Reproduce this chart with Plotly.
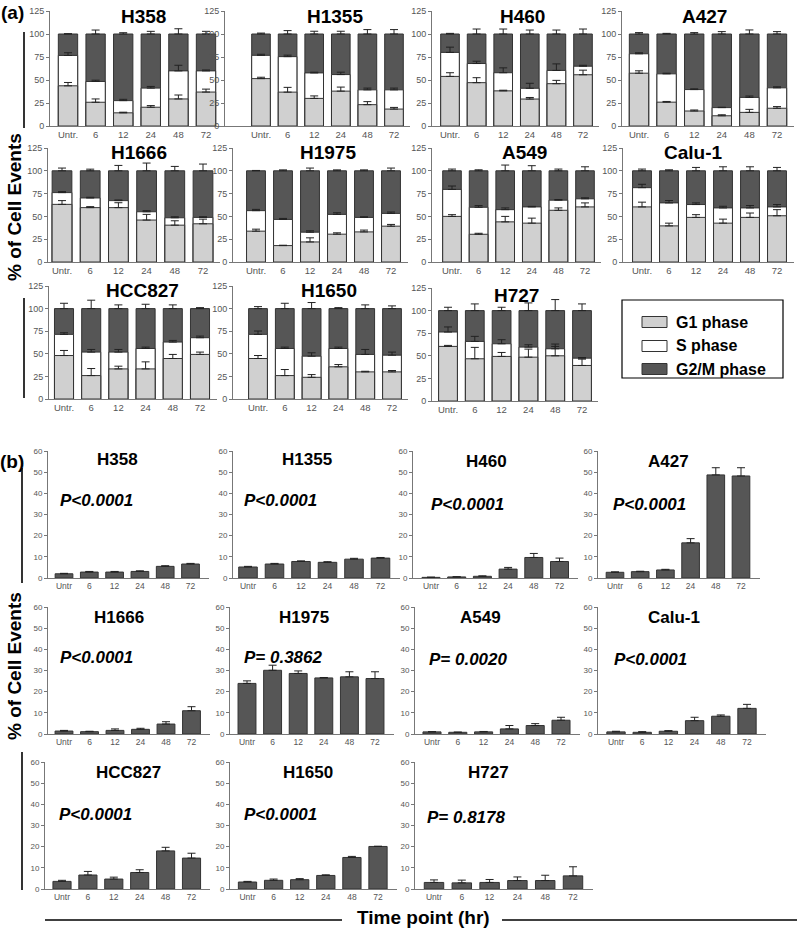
import numpy as np
import plotly.graph_objects as go

# ---------------- data ----------------
TIMEPOINTS_A = ["Untr.", "6", "12", "24", "48", "72"]
TIMEPOINTS_B = ["Untr", "6", "12", "24", "48", "72"]
CELL_LINES = ["H358", "H1355", "H460", "A427", "H1666", "H1975",
              "A549", "Calu-1", "HCC827", "H1650", "H727"]

# (a) cell-cycle distribution, % of cell events
G1_PHASE = {
    "H358":   [43.7, 25.8, 14.3, 20.4, 29.4, 36.9],
    "H1355":  [51.5, 36.8, 30.0, 37.9, 23.2, 18.4],
    "H460":   [53.9, 47.1, 38.2, 29.3, 46.0, 55.7],
    "A427":   [57.4, 25.9, 16.3, 11.1, 14.8, 19.3],
    "H1666":  [63.2, 59.6, 59.6, 46.0, 40.4, 41.9],
    "H1975":  [33.8, 18.0, 22.0, 30.5, 33.0, 39.3],
    "A549":   [50.0, 30.4, 44.0, 42.6, 56.7, 60.4],
    "Calu-1": [60.4, 39.6, 48.9, 42.6, 48.9, 50.7],
    "HCC827": [48.1, 25.9, 33.3, 33.3, 44.8, 49.3],
    "H1650":  [44.8, 25.9, 24.0, 35.6, 30.0, 30.0],
    "H727":   [60.4, 46.7, 49.3, 48.5, 50.0, 39.3],
}
S_PHASE = {
    "H358":   [33.0, 22.6, 13.3, 20.8, 30.5, 23.0],
    "H1355":  [25.3, 38.6, 27.7, 18.0, 16.1, 20.9],
    "H460":   [26.1, 20.8, 19.7, 11.7, 14.4, 9.3],
    "A427":   [21.1, 30.8, 23.3, 8.9, 16.3, 22.2],
    "H1666":  [12.9, 10.6, 7.7, 9.1, 8.1, 7.0],
    "H1975":  [22.5, 28.7, 10.7, 21.7, 15.9, 14.0],
    "A549":   [29.6, 29.6, 13.4, 17.8, 11.1, 8.9],
    "Calu-1": [21.1, 25.2, 14.1, 16.7, 10.4, 9.7],
    "HCC827": [23.4, 26.0, 18.6, 22.6, 18.2, 18.5],
    "H1650":  [26.7, 30.0, 23.4, 20.3, 19.3, 18.5],
    "H727":   [15.9, 19.2, 14.0, 11.1, 7.8, 8.1],
}
G2M_PHASE = {
    "H358":   [23.3, 51.6, 72.4, 58.8, 40.1, 40.1],
    "H1355":  [23.2, 24.6, 42.3, 44.1, 60.7, 60.7],
    "H460":   [20.0, 32.1, 42.1, 59.0, 39.6, 35.0],
    "A427":   [21.5, 43.3, 60.4, 80.0, 68.9, 58.5],
    "H1666":  [23.9, 29.8, 32.7, 44.9, 51.5, 51.1],
    "H1975":  [43.7, 53.3, 67.3, 47.8, 51.1, 46.7],
    "A549":   [20.4, 40.0, 42.6, 39.6, 32.2, 30.7],
    "Calu-1": [18.5, 35.2, 37.0, 40.7, 40.7, 39.6],
    "HCC827": [28.5, 48.1, 48.1, 44.1, 37.0, 32.2],
    "H1650":  [28.5, 44.1, 52.6, 44.1, 50.7, 51.5],
    "H727":   [23.7, 34.1, 36.7, 40.4, 42.2, 52.6],
}
G1_ERR = {
    "H358":   [3.6, 3.6, 0.7, 1.8, 4.3, 3.2],
    "H1355":  [1.5, 5.2, 2.7, 4.4, 3.3, 1.8],
    "H460":   [4.0, 5.4, 0.7, 1.7, 3.6, 5.0],
    "A427":   [2.6, 0.8, 1.1, 1.1, 3.3, 1.8],
    "H1666":  [4.1, 1.1, 5.4, 6.2, 4.8, 5.1],
    "H1975":  [2.2, 0.4, 4.5, 1.5, 2.0, 1.9],
    "A549":   [1.9, 1.1, 6.0, 5.5, 2.6, 4.4],
    "Calu-1": [5.2, 3.0, 3.0, 4.4, 4.8, 6.7],
    "HCC827": [5.6, 7.8, 3.0, 7.8, 4.5, 2.6],
    "H1650":  [3.3, 6.7, 3.0, 2.5, 0.7, 1.5],
    "H727":   [1.1, 12.6, 4.4, 8.9, 10.4, 7.0],
}
S_ERR = {
    "H358":   [2.9, 1.4, 1.4, 1.8, 6.1, 1.0],
    "H1355":  [1.2, 1.6, 0.8, 2.6, 1.9, 1.9],
    "H460":   [5.7, 2.5, 5.3, 5.4, 7.1, 1.0],
    "A427":   [1.1, 0.7, 0.8, 0.4, 1.5, 1.1],
    "H1666":  [1.1, 0.8, 0.7, 1.2, 1.1, 0.7],
    "H1975":  [1.4, 1.1, 1.5, 1.8, 0.7, 1.5],
    "A549":   [3.7, 1.9, 1.9, 0.6, 0.7, 1.1],
    "Calu-1": [3.7, 2.6, 1.8, 1.8, 2.6, 2.6],
    "HCC827": [1.8, 2.9, 2.9, 1.5, 1.8, 1.8],
    "H1650":  [3.7, 1.5, 3.7, 1.5, 5.5, 3.4],
    "H727":   [5.6, 5.6, 4.5, 2.6, 5.2, 0.7],
}
G2M_ERR = {
    "H358":   [0.3, 4.3, 1.4, 2.9, 5.7, 2.9],
    "H1355":  [1.0, 3.7, 3.0, 3.0, 4.8, 4.8],
    "H460":   [0.7, 5.4, 5.4, 4.3, 4.3, 5.4],
    "A427":   [1.5, 0.7, 1.5, 2.6, 4.4, 2.6],
    "H1666":  [3.0, 1.8, 5.9, 8.5, 4.8, 7.4],
    "H1975":  [0.4, 1.0, 3.0, 1.0, 1.0, 3.0],
    "A549":   [1.9, 1.1, 6.3, 5.6, 1.9, 4.4],
    "Calu-1": [1.9, 1.1, 3.7, 4.4, 4.4, 3.7],
    "HCC827": [5.9, 9.3, 4.1, 4.8, 4.1, 1.1],
    "H1650":  [2.2, 5.9, 6.7, 1.1, 4.1, 3.0],
    "H727":   [3.7, 7.4, 3.7, 8.5, 12.2, 7.4],
}

# (b) % of cell events (sub-population), mean and error
EVENTS_B = {
    "H358":   [2.0, 2.8, 2.8, 3.1, 5.5, 6.6],
    "H1355":  [5.2, 6.6, 7.8, 7.4, 8.9, 9.4],
    "H460":   [0.3, 0.5, 0.8, 4.2, 9.7, 7.8],
    "A427":   [2.7, 3.0, 3.8, 16.6, 48.7, 48.2],
    "H1666":  [1.4, 1.1, 1.7, 2.2, 4.7, 11.0],
    "H1975":  [23.9, 30.1, 28.6, 26.5, 27.0, 26.2],
    "A549":   [1.0, 0.8, 1.0, 2.4, 4.0, 6.5],
    "Calu-1": [1.0, 0.8, 1.3, 6.3, 8.4, 12.1],
    "HCC827": [3.6, 6.6, 4.7, 7.8, 18.0, 14.6],
    "H1650":  [3.3, 4.1, 4.4, 6.4, 14.9, 20.1],
    "H727":   [3.1, 2.9, 3.1, 4.0, 4.0, 6.2],
}
EVENTS_B_ERR = {
    "H358":   [0.2, 0.3, 0.3, 0.3, 0.3, 0.3],
    "H1355":  [0.3, 0.3, 0.3, 0.3, 0.4, 0.3],
    "H460":   [0.1, 0.1, 0.2, 0.8, 1.9, 1.6],
    "A427":   [0.2, 0.2, 0.3, 2.0, 3.4, 3.9],
    "H1666":  [0.3, 0.2, 0.7, 0.5, 1.1, 1.9],
    "H1975":  [1.2, 2.4, 1.2, 0.2, 2.4, 3.2],
    "A549":   [0.1, 0.1, 0.2, 1.6, 0.9, 1.4],
    "Calu-1": [0.3, 0.3, 0.3, 1.6, 0.6, 1.9],
    "HCC827": [0.5, 1.7, 0.9, 1.3, 1.7, 2.3],
    "H1650":  [0.3, 0.6, 0.5, 0.3, 0.5, 0.1],
    "H727":   [1.2, 1.3, 1.4, 1.7, 2.5, 4.3],
}
P_VALUES = {
    "H358": "P<0.0001", "H1355": "P<0.0001", "H460": "P<0.0001",
    "A427": "P<0.0001", "H1666": "P<0.0001", "H1975": "P= 0.3862",
    "A549": "P= 0.0020", "Calu-1": "P<0.0001", "HCC827": "P<0.0001",
    "H1650": "P<0.0001", "H727": "P= 0.8178",
}
TICKS_A = [0, 25, 50, 75, 100, 125]
TICKS_B = [0, 10, 20, 30, 40, 50, 60]
PHASE_NAMES = ["G1 phase", "S phase", "G2/M phase"]

# ---------------- layout geometry (pixels) ----------------
W, H = 800, 928
FONT = "Liberation Sans, Arial, Helvetica, sans-serif"
C_G1, C_S, C_G2 = "#d0d0d0", "#ffffff", "#565656"
C_EDGE = "#333333"
C_AXIS = "#777777"
C_TICK = "#555555"


def px(x):
    return x / W


def py(y):
    return 1 - y / H


# axis line x, first bar centre, last bar centre, top px, zero px
GEOM_A = {
    "H358": (50, 68, 206, 11, 126), "H1355": (225, 261, 394, 11, 126),
    "H460": (432, 450, 583, 11, 126), "A427": (622, 639, 777, 11, 126),
    "H1666": (48, 62, 203, 148, 262), "H1975": (233, 256, 391, 148, 262),
    "A549": (432, 452, 585, 148, 262), "Calu-1": (623, 642, 777, 148, 262),
    "HCC827": (49, 64, 200, 286, 399), "H1650": (233, 258, 392, 286, 399),
    "H727": (432, 448, 582, 288, 401),
}
GEOM_B = {
    "H358": (48, 64, 190.5, 451, 578), "H1355": (233, 248, 380.5, 451, 578),
    "H460": (413, 431, 559.5, 451, 578), "A427": (598, 615, 741, 451, 578),
    "H1666": (48, 64, 191.5, 607, 734), "H1975": (230, 247, 375, 607, 734),
    "A549": (415, 432, 561, 607, 734), "Calu-1": (598, 616, 747, 607, 734),
    "HCC827": (45, 62, 191.5, 762, 889), "H1650": (230, 247.5, 378, 762, 889),
    "H727": (415, 434, 573, 762, 889),
}
TITLE_A = {
    "H358": (143, 17), "H1355": (335, 17), "H460": (522, 17), "A427": (704, 17),
    "H1666": (139, 153), "H1975": (328, 153), "A549": (524, 153), "Calu-1": (693, 153),
    "HCC827": (142, 290), "H1650": (329, 290), "H727": (516, 295),
}
TITLE_B = {
    "H358": (117, 459), "H1355": (307, 459), "H460": (486, 462), "A427": (668, 462),
    "H1666": (119, 617), "H1975": (304, 617), "A549": (481, 617), "Calu-1": (674, 617),
    "HCC827": (128, 772), "H1650": (308, 772), "H727": (488, 772),
}
PPOS_B = {
    "H358": (58, 500), "H1355": (242, 500), "H460": (429, 504), "A427": (611, 504),
    "H1666": (58, 657), "H1975": (242, 657), "A549": (427, 659), "Calu-1": (612, 659),
    "HCC827": (57, 814), "H1650": (242, 814), "H727": (425, 817),
}

fig = go.Figure()
layout = {}
annotations = []
shapes = []


def ann(x, y, text, size, xanchor="center", angle=0):
    annotations.append(dict(x=px(x), y=py(y), xref="paper", yref="paper",
                            xanchor=xanchor, yanchor="middle", text=text,
                            textangle=angle, showarrow=False,
                            font=dict(family=FONT, size=size, color="#000")))


def make_axes(n, geom, ymax, tickvals, xlabels, xfs, yfs, pad):
    ax, c1, c6, top, zero = geom
    p = (c6 - c1) / 5.0
    right = c6 + p / 2 + pad
    lo = -(c1 - ax) / p
    hi = 5 + (right - c6) / p
    sfx = "" if n == 1 else str(n)
    layout["xaxis" + sfx] = dict(
        domain=[px(ax), px(right)], range=[lo, hi], anchor="y" + sfx,
        tickmode="array", tickvals=list(range(6)), ticktext=xlabels,
        showline=True, linecolor=C_AXIS, linewidth=1, ticks="",
        showgrid=False, zeroline=False, automargin=False, fixedrange=True,
        tickfont=dict(family=FONT, size=xfs, color=C_TICK))
    layout["yaxis" + sfx] = dict(
        domain=[py(zero), py(top)], range=[0, ymax], anchor="x" + sfx,
        tickmode="array", tickvals=tickvals,
        showline=True, linecolor=C_AXIS, linewidth=1, ticks="outside",
        ticklen=3, tickcolor=C_AXIS, showgrid=False, zeroline=False,
        automargin=False, fixedrange=True,
        tickfont=dict(family=FONT, size=yfs, color=C_TICK))
    return "x" + sfx, "y" + sfx


def err(arr):
    return dict(type="data", array=arr, arrayminus=[0] * len(arr),
                symmetric=False, color="#222222", thickness=1, width=4)


n = 0
for name in CELL_LINES:
    n += 1
    xr, yr = make_axes(n, GEOM_A[name], 125, TICKS_A, TIMEPOINTS_A, 9.5, 9, 3)
    g1 = np.array(G1_PHASE[name])
    s = np.array(S_PHASE[name])
    g2 = np.array(G2M_PHASE[name])
    idx = list(range(6))
    # overlay cumulative heights, drawn back to front so error bars stay visible
    fig.add_trace(go.Bar(x=idx, y=g1 + s + g2, xaxis=xr, yaxis=yr,
                         marker=dict(color=C_G2, line=dict(color=C_EDGE, width=1)),
                         error_y=err(G2M_ERR[name]), showlegend=False, name=PHASE_NAMES[2]))
    fig.add_trace(go.Bar(x=idx, y=g1 + s, xaxis=xr, yaxis=yr,
                         marker=dict(color=C_S, line=dict(color=C_EDGE, width=1)),
                         error_y=err(S_ERR[name]), showlegend=False, name=PHASE_NAMES[1]))
    fig.add_trace(go.Bar(x=idx, y=g1, xaxis=xr, yaxis=yr,
                         marker=dict(color=C_G1, line=dict(color=C_EDGE, width=1)),
                         error_y=err(G1_ERR[name]), showlegend=False, name=PHASE_NAMES[0]))
    tx, ty = TITLE_A[name]
    ann(tx, ty, "<b>%s</b>" % name, 19)

for name in CELL_LINES:
    n += 1
    xr, yr = make_axes(n, GEOM_B[name], 60, TICKS_B, TIMEPOINTS_B, 8.5, 8, 6)
    fig.add_trace(go.Bar(x=list(range(6)), y=EVENTS_B[name], xaxis=xr, yaxis=yr,
                         marker=dict(color=C_G2, line=dict(color=C_EDGE, width=1)),
                         error_y=err(EVENTS_B_ERR[name]), showlegend=False))
    tx, ty = TITLE_B[name]
    ann(tx, ty, "<b>%s</b>" % name, 17)
    qx, qy = PPOS_B[name]
    ann(qx, qy, "<b><i>%s</i></b>" % P_VALUES[name], 17, xanchor="left")

# panel labels and axis titles
ann(12, 12, "<b>(a)</b>", 19)
ann(12, 462, "<b>(b)</b>", 19)
ann(15, 207, "<b>% of Cell Events</b>", 19, angle=-90)
ann(14, 666, "<b>% of Cell Events</b>", 19, angle=-90)
ann(423, 917, "<b>Time point (hr)</b>", 19)

# legend box for panel (a)
shapes.append(dict(type="rect", xref="paper", yref="paper", x0=px(622), x1=px(783),
                   y0=py(378), y1=py(300), line=dict(color="#000", width=1.2)))
for (label, col, yc) in zip(PHASE_NAMES, [C_G1, C_S, C_G2], [322, 346, 369]):
    shapes.append(dict(type="rect", xref="paper", yref="paper", x0=px(642), x1=px(667),
                       y0=py(yc + 5.5), y1=py(yc - 5.5), fillcolor=col,
                       line=dict(color=C_EDGE, width=1)))
    ann(674, yc, "<b>%s</b>" % label, 16, xanchor="left")

# decorative bracket lines
for (x0, y0, x1, y1) in [(24, 32, 24, 128), (24, 298, 24, 398),
                         (22, 468, 22, 583), (22, 752, 22, 890),
                         (45, 920, 342, 920), (502, 920, 797, 920)]:
    shapes.append(dict(type="line", xref="paper", yref="paper", x0=px(x0), x1=px(x1),
                       y0=py(y0), y1=py(y1), line=dict(color="#000", width=1.6)))

fig.update_layout(
    width=W, height=H, margin=dict(l=0, r=0, t=0, b=0),
    paper_bgcolor="white", plot_bgcolor="white",
    barmode="overlay", bargap=0.3, showlegend=False,
    annotations=annotations, shapes=shapes, **layout)

fig.write_html("out.html", config={"displayModeBar": False},
               post_script="document.body.style.margin='0';document.body.style.overflow='hidden';")
